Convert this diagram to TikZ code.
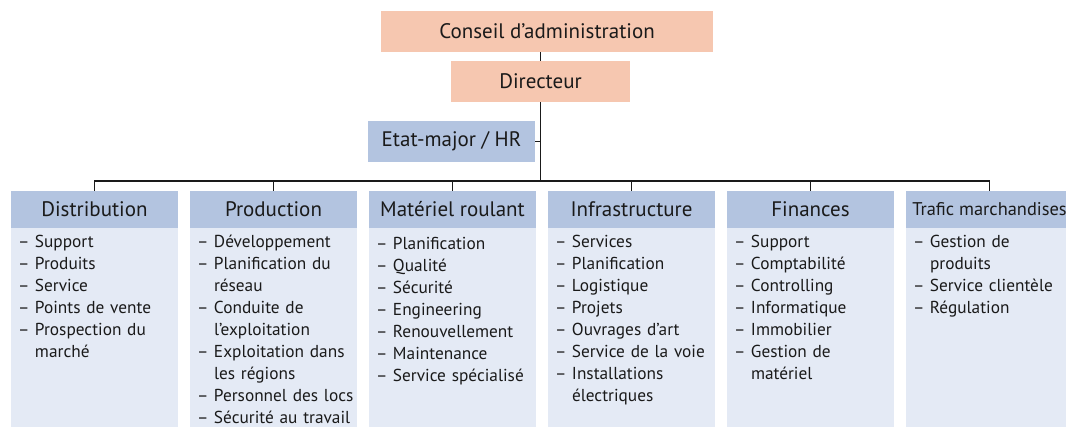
\documentclass[tikz,border=0pt]{standalone}
\usepackage{fontspec}
\setmainfont{PT Sans}
\usetikzlibrary{positioning}
\definecolor{board}{HTML}{F6C7B0}
\definecolor{headblue}{HTML}{B3C4E0}
\definecolor{bodyblue}{HTML}{E4EAF5}
\definecolor{ink}{HTML}{1A1A1A}
\tikzset{%
    top/.style={rectangle, fill=board, minimum height=41pt, inner sep=0pt, text=ink, font=\fontsize{21}{24}\selectfont},
    staff/.style={rectangle, fill=headblue, minimum height=41pt, minimum width=167pt, inner sep=0pt, text=ink, font=\fontsize{21}{24}\selectfont},
    head/.style={rectangle, fill=headblue, minimum height=37pt, minimum width=167pt, inner sep=0pt, text=ink, font=\fontsize{21}{24}\selectfont},
    body/.style={rectangle, fill=bodyblue, minimum height=205pt, minimum width=167pt, inner sep=0pt},
    items/.style={anchor=north west, text width=165pt, align=left, inner sep=0pt, text=ink, font=\fontsize{17.3}{22}\selectfont},
    link/.style={draw, line width=1.2pt, ink}
}
% one dash entry of a department list, no hyphenation
\newcommand{\entry}[1]{\hyphenpenalty=10000\relax\hangindent=17pt\hangafter=1\relax
    \noindent\makebox[17pt][l]{–}#1\par}

\begin{document}
\begin{tikzpicture}[x=1pt, y=-1pt]
    \useasboundingbox (0,0) rectangle (1066,426);

    % board, director and staff
    \node[top, minimum width=332pt] (board) at (547,31.5) {Conseil d’administration};
    \node[top, minimum width=179pt] (dir) at (540.5,81.5) {Directeur};
    \node[staff] (hr) at (451.5,141.5) {Etat-major / HR};
    \coordinate (bus) at (540.5,181);

    % department headers
    \node[head] (distH) at (94.5,209.5) {Distribution};
    \node[head, right=11.6pt of distH] (prodH) {Production};
    \node[head, right=11.6pt of prodH] (rollH) {Matériel roulant};
    \node[head, right=11.6pt of rollH] (infraH) {Infrastructure};
    \node[head, right=11.6pt of infraH] (finH) {Finances};
    \node[head, right=11.6pt of finH] (freightH) {\fontsize{18.4}{24}\selectfont Trafic marchandises};

    \foreach \d in {dist,prod,roll,infra,fin,freight}
        \node[body, below=0pt of \d H] (\d B) {};

    % department lists
    \node[items] (distL) at ([shift={(7pt,-7pt)}]distB.north west) {%
        \entry{Support}\entry{Produits}\entry{Service}\entry{Points de vente}%
        \entry{Prospection du\newline marché}};
    \node[items] (prodL) at ([shift={(7pt,-7pt)}]prodB.north west) {%
        \entry{Développement}\entry{Planification du\newline réseau}%
        \entry{Conduite de\newline l’exploitation}\entry{Exploitation dans\newline les régions}%
        \entry{Personnel des locs}\entry{Sécurité au travail}};
    \node[items] (rollL) at ([shift={(7pt,-9pt)}]rollB.north west) {%
        \entry{Planification}\entry{Qualité}\entry{Sécurité}\entry{Engineering}%
        \entry{Renouvellement}\entry{Maintenance}\entry{Service spécialisé}};
    \node[items] (infraL) at ([shift={(7pt,-7pt)}]infraB.north west) {%
        \entry{Services}\entry{Planification}\entry{Logistique}\entry{Projets}%
        \entry{Ouvrages d’art}\entry{Service de la voie}%
        \entry{Installations\newline électriques}};
    \node[items] (finL) at ([shift={(7pt,-7pt)}]finB.north west) {%
        \entry{Support}\entry{Comptabilité}\entry{Controlling}\entry{Informatique}%
        \entry{Immobilier}\entry{Gestion de\newline matériel}};
    \node[items] (freightL) at ([shift={(7pt,-7pt)}]freightB.north west) {%
        \entry{Gestion de\newline produits}\entry{Service clientèle}\entry{Régulation}};

    % connectors
    \draw[link] (dir.north) -- (dir.north |- board.south);
    \draw[link] (dir.south) -- (bus);
    \draw[link] (hr.east) -- (hr.east -| dir.south);
    \draw[link] (distH.north) |- (bus) -| (freightH.north);
    \foreach \d in {prod,roll,infra,fin}
        \draw[link] (\d H.north) -- (\d H.north |- bus);
\end{tikzpicture}
\end{document}
